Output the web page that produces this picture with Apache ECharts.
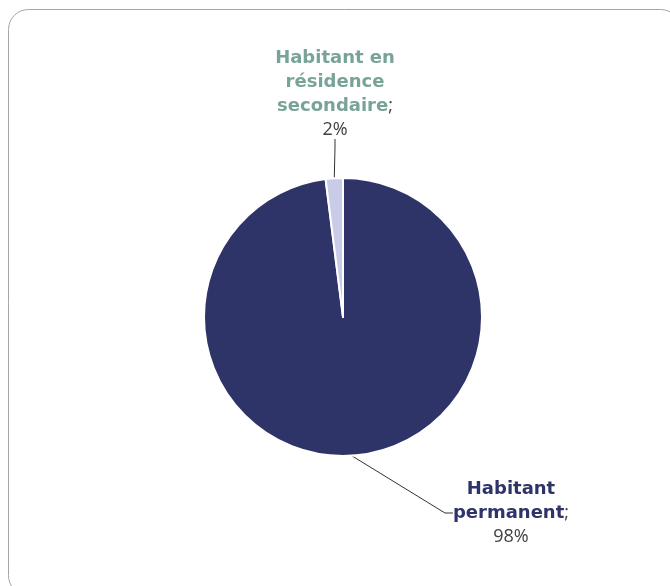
<!DOCTYPE html>
<html>
<head>
<meta charset="utf-8">
<script src="https://cdn.jsdelivr.net/npm/echarts@6/dist/echarts.min.js"></script>
<style>
  html, body { margin: 0; padding: 0; background: #fff; }
  #chart { width: 670px; height: 586px; }
</style>
</head>
<body>
<div id="chart"></div>
<script>
const categories = ['Habitant permanent', 'Habitant en\nrésidence\nsecondaire']
const values = [98, 2]
const percentLabels = ['98%', '2%']
const sliceColors = ['#2e3468', '#c9cce6']
const nameColors = ['#2e3468', '#78a399']

const chart = echarts.init(document.getElementById('chart'))

const pieData = categories.map((name, i) => ({
  name: name,
  value: values[i],
  itemStyle: { color: sliceColors[i] },
  label: {
    formatter: () => '{n' + i + '|' + name.replace('Habitant permanent', 'Habitant\npermanent') + '}{s|;}\n{p|' + percentLabels[i] + '}'
  }
}))

const rich = {
  s: { fontFamily: 'Open Sans', fontSize: 18, color: '#404040', lineHeight: 24 },
  p: { fontFamily: 'Open Sans', fontSize: 18, color: '#404040', lineHeight: 24 }
}
nameColors.forEach((c, i) => {
  rich['n' + i] = { fontFamily: 'DejaVu Sans', fontWeight: 'bold', fontSize: 18, color: c, lineHeight: 24 }
})

chart.setOption({
  animation: false,
  backgroundColor: '#fff',
  graphic: [{
    type: 'rect',
    shape: { x: 8.5, y: 9.5, width: 672, height: 586, r: 20 },
    style: { fill: 'none', stroke: '#a6a6a6', lineWidth: 1 },
    silent: true
  }],
  series: [{
    type: 'pie',
    center: [343, 317],
    radius: 139,
    startAngle: 90,
    clockwise: true,
    itemStyle: { borderColor: '#fff', borderWidth: 2 },
    label: {
      show: true,
      align: 'center',
      rich: rich
    },
    labelLine: {
      show: true,
      length: 25,
      length2: 8,
      lineStyle: { color: '#333', width: 1 }
    },
    labelLayout: (params) => {
      if (params.dataIndex === 1) {
        return { x: 335, y: 94, align: 'center', verticalAlign: 'middle' }
      }
      return { x: 511, y: 513, align: 'center', verticalAlign: 'middle' }
    },
    data: pieData
  }]
})
</script>
</body>
</html>
